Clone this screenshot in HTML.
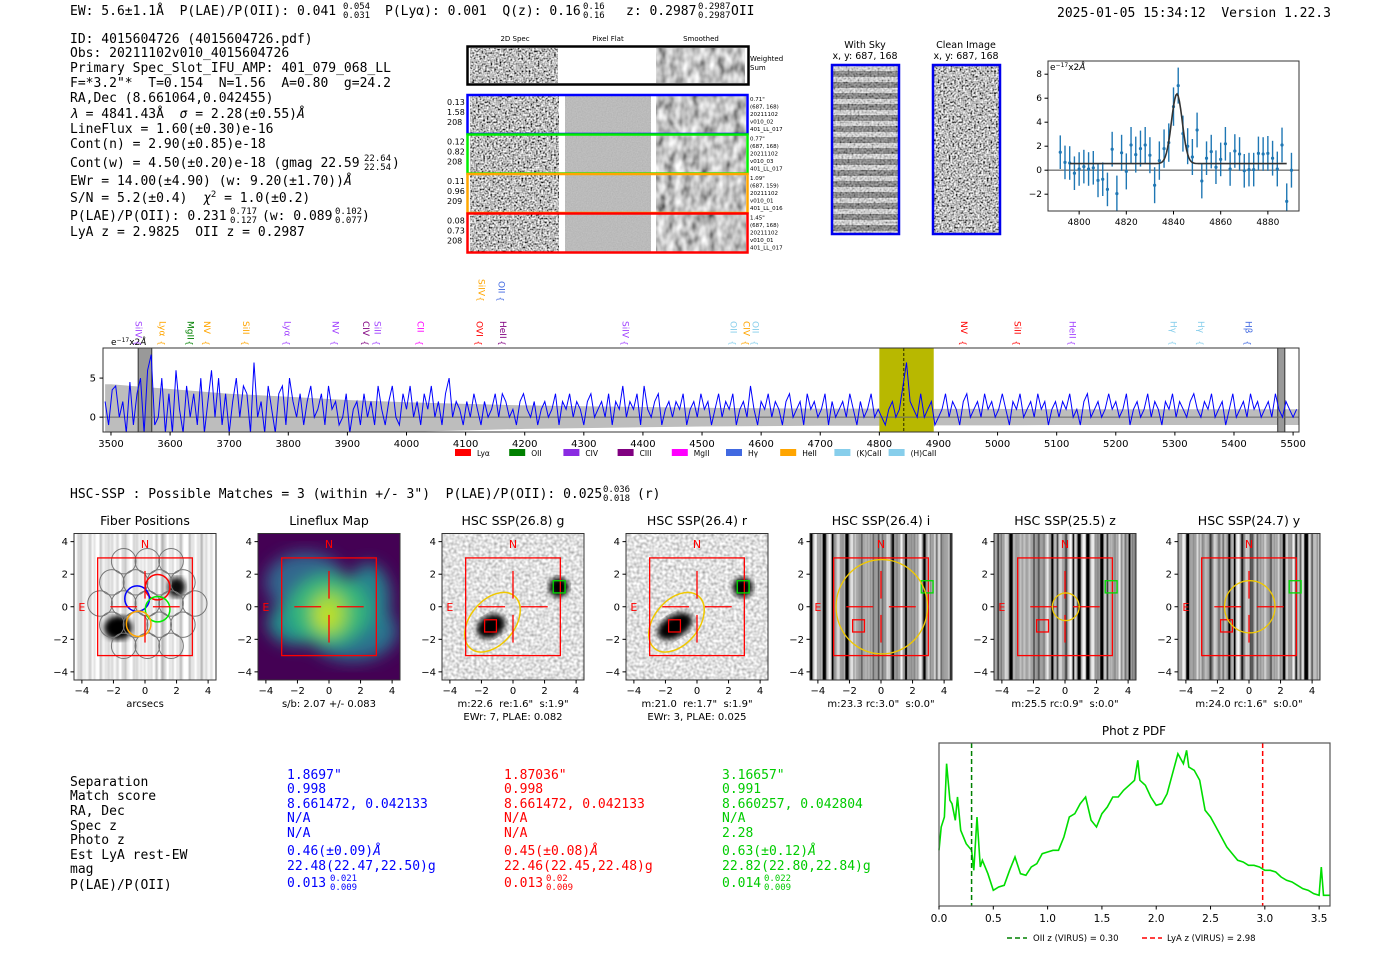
<!DOCTYPE html>
<html><head><meta charset="utf-8"><style>
html,body{margin:0;padding:0;background:#fff;}
svg{display:block;}
svg text{white-space:pre;}
.m{font-family:"DejaVu Sans Mono","Liberation Mono",monospace;font-size:13px;fill:#000;}
.m.u{font-size:9px;}
.s{font-family:"DejaVu Sans","Liberation Sans",sans-serif;}
</style></head><body>
<svg id="fig" width="1400" height="953" viewBox="0 0 1400 953" xmlns="http://www.w3.org/2000/svg" xml:space="preserve">
<defs>
<filter id="nz" x="0" y="0" width="1" height="1"><feTurbulence type="fractalNoise" baseFrequency="0.55" numOctaves="1" seed="4"/><feColorMatrix type="matrix" values="2.2 0 0 0 -0.6  2.2 0 0 0 -0.6  2.2 0 0 0 -0.6  0 0 0 0 1"/></filter>
<filter id="nzs" x="0" y="0" width="1" height="1"><feTurbulence type="fractalNoise" baseFrequency="0.12 0.08" numOctaves="2" seed="9"/><feColorMatrix type="matrix" values="1.3 0 0 0 -0.1  1.3 0 0 0 -0.1  1.3 0 0 0 -0.1  0 0 0 0 1"/></filter>
<filter id="nzf" x="0" y="0" width="1" height="1"><feTurbulence type="fractalNoise" baseFrequency="0.8" numOctaves="1" seed="2"/><feColorMatrix type="matrix" values="0.15 0 0 0 0.42  0.15 0 0 0 0.42  0.15 0 0 0 0.42  0 0 0 0 1"/></filter>
<filter id="nzl" x="0" y="0" width="1" height="1"><feTurbulence type="fractalNoise" baseFrequency="0.35" numOctaves="1" seed="6"/><feColorMatrix type="matrix" values="1.1 0 0 0 0.2  1.1 0 0 0 0.2  1.1 0 0 0 0.2  0 0 0 0 1"/></filter>
<filter id="str1" x="0" y="0" width="1" height="1"><feTurbulence type="fractalNoise" baseFrequency="0.18 0" numOctaves="2" seed="11"/><feColorMatrix type="matrix" values="1.5 0 0 0 0.05  1.5 0 0 0 0.05  1.5 0 0 0 0.05  0 0 0 0 1"/></filter>
<filter id="str4" x="0" y="0" width="1" height="1"><feTurbulence type="fractalNoise" baseFrequency="0.22 0" numOctaves="2" seed="17"/><feColorMatrix type="matrix" values="2.4 0 0 0 -0.85  2.4 0 0 0 -0.85  2.4 0 0 0 -0.85  0 0 0 0 1"/></filter>
<filter id="str5" x="0" y="0" width="1" height="1"><feTurbulence type="fractalNoise" baseFrequency="0.22 0" numOctaves="2" seed="23"/><feColorMatrix type="matrix" values="2.4 0 0 0 -0.85  2.4 0 0 0 -0.85  2.4 0 0 0 -0.85  0 0 0 0 1"/></filter>
<filter id="str6" x="0" y="0" width="1" height="1"><feTurbulence type="fractalNoise" baseFrequency="0.22 0" numOctaves="2" seed="31"/><feColorMatrix type="matrix" values="2.4 0 0 0 -0.85  2.4 0 0 0 -0.85  2.4 0 0 0 -0.85  0 0 0 0 1"/></filter>
<filter id="sky" x="0" y="0" width="1" height="1"><feTurbulence type="fractalNoise" baseFrequency="0.5" numOctaves="1" seed="5"/><feColorMatrix type="matrix" values="1.5 0 0 0 -0.3  1.5 0 0 0 -0.3  1.5 0 0 0 -0.3  0 0 0 0 0.55"/></filter>
<filter id="blur3"><feGaussianBlur stdDeviation="3"/></filter>
<filter id="blur8"><feGaussianBlur stdDeviation="8"/></filter>
<pattern id="skyp" width="10" height="11" patternUnits="userSpaceOnUse"><rect width="10" height="11" fill="#eee"/><rect y="5" width="10" height="6" fill="#555"/></pattern>
</defs>

<g>
<text class="m" x="70" y="15">EW: 5.6±1.1Å  P(LAE)/P(OII): 0.041</text>
<text class="m u" x="343" y="9">0.054</text><text class="m u" x="343" y="18">0.031</text>
<text class="m" x="385" y="15">P(Lyα): 0.001  Q(z): 0.16</text>
<text class="m u" x="583" y="9">0.16</text><text class="m u" x="583" y="18">0.16</text>
<text class="m" x="626" y="15">z: 0.2987</text>
<text class="m u" x="698" y="9">0.2987</text><text class="m u" x="698" y="18">0.2987</text>
<text class="m" x="731" y="15">OII</text>
<text class="m" x="1057" y="17">2025-01-05 15:34:12  Version 1.22.3</text>
</g>

<g>
<text class="m" x="70" y="43">ID: 4015604726 (4015604726.pdf)</text>
<text class="m" x="70" y="57">Obs: 20211102v010_4015604726</text>
<text class="m" x="70" y="72">Primary Spec_Slot_IFU_AMP: 401_079_068_LL</text>
<text class="m" x="70" y="87">F=*3.2"*  T=0.154  N=1.56  A=0.80  g=24.2</text>
<text class="m" x="70" y="102">RA,Dec (8.661064,0.042455)</text>
<text class="m" x="70" y="118"><tspan font-style="italic">λ</tspan> = 4841.43Å  <tspan font-style="italic">σ</tspan> = 2.28(±0.55)<tspan font-style="italic">Å</tspan></text>
<text class="m" x="70" y="133">LineFlux = 1.60(±0.30)e-16</text>
<text class="m" x="70" y="148">Cont(n) = 2.90(±0.85)e-18</text>
<text class="m" x="70" y="167">Cont(w) = 4.50(±0.20)e-18 (gmag 22.59</text>
<text class="m u" x="364" y="161">22.64</text><text class="m u" x="364" y="170">22.54</text>
<text class="m" x="392" y="167">)</text>
<text class="m" x="70" y="185">EWr = 14.00(±4.90) (w: 9.20(±1.70))<tspan font-style="italic">Å</tspan></text>
<text class="m" x="70" y="202">S/N = 5.2(±0.4)  <tspan font-style="italic">χ</tspan><tspan style="font-size:9px" dy="-5">2</tspan><tspan dy="5"> = 1.0(±0.2)</tspan></text>
<text class="m" x="70" y="220">P(LAE)/P(OII): 0.231</text>
<text class="m u" x="230" y="214">0.717</text><text class="m u" x="230" y="223">0.127</text>
<text class="m" x="262" y="220">(w: 0.089</text>
<text class="m u" x="335" y="214">0.102</text><text class="m u" x="335" y="223">0.077</text>
<text class="m" x="362" y="220">)</text>
<text class="m" x="70" y="236">LyA z = 2.9825  OII z = 0.2987</text>
</g>

<g class="s" font-size="7">
<text x="515" y="41" text-anchor="middle">2D Spec</text>
<text x="608" y="41" text-anchor="middle">Pixel Flat</text>
<text x="701" y="41" text-anchor="middle">Smoothed</text>
<g>
<rect x="470" y="48" width="88" height="35" filter="url(#nz)"/>
<rect x="558" y="48" width="97" height="35" fill="#fff"/>
<rect x="656" y="48" width="89" height="35" filter="url(#nzs)"/>
<rect x="467.5" y="46.5" width="281" height="38" fill="none" stroke="#000" stroke-width="2.5"/>
<text x="750" y="61">Weighted</text><text x="750" y="70">Sum</text>
</g>
<g id="rows"></g>
</g>

<g class="s" font-size="9.5">
<text x="865" y="48" text-anchor="middle">With Sky</text>
<text x="865" y="59" text-anchor="middle">x, y: 687, 168</text>
<rect x="832" y="65" width="67" height="169" fill="url(#skyp)"/>
<rect x="832" y="65" width="67" height="169" filter="url(#sky)"/>
<rect x="832" y="65" width="67" height="169" fill="none" stroke="#0000ee" stroke-width="2.5"/>
</g>
<g class="s" font-size="9.5">
<text x="966" y="48" text-anchor="middle">Clean Image</text>
<text x="966" y="59" text-anchor="middle">x, y: 687, 168</text>
<rect x="933" y="65" width="67" height="169" filter="url(#nz)"/>
<rect x="933" y="65" width="67" height="169" fill="none" stroke="#0000ee" stroke-width="2.5"/>
</g>

<g id="zoomspec"></g>
<g id="mainspec"></g>

<text class="m" x="70" y="498">HSC-SSP : Possible Matches = 3 (within +/- 3")  P(LAE)/P(OII): 0.025</text>
<text class="m u" x="603" y="492">0.036</text><text class="m u" x="603" y="501">0.018</text>
<text class="m" x="637" y="498">(r)</text>

<g id="cutouts"></g>

<g class="m">
<text class="m" x="70" y="786">Separation</text><text class="m" x="70" y="800">Match score</text><text class="m" x="70" y="815">RA, Dec</text><text class="m" x="70" y="830">Spec z</text><text class="m" x="70" y="844">Photo z</text><text class="m" x="70" y="859">Est LyA rest-EW</text><text class="m" x="70" y="873">mag</text><text class="m" x="70" y="889">P(LAE)/P(OII)</text>
<g>
<text x="287" y="779" fill="#0000ff">1.8697"</text><text x="287" y="793" fill="#0000ff">0.998</text><text x="287" y="808" fill="#0000ff">8.661472, 0.042133</text><text x="287" y="822" fill="#0000ff">N/A</text><text x="287" y="837" fill="#0000ff">N/A</text><text x="287" y="855" fill="#0000ff">0.46(±0.09)<tspan font-style="italic">Å</tspan></text><text x="287" y="870" fill="#0000ff">22.48(22.47,22.50)g</text><text x="287" y="887" fill="#0000ff">0.013</text><text x="330" y="881" style="font-size:9px" fill="#0000ff">0.021</text><text x="330" y="890" style="font-size:9px" fill="#0000ff">0.009</text>
</g>
<g>
<text x="504" y="779" fill="#ff0000">1.87036"</text><text x="504" y="793" fill="#ff0000">0.998</text><text x="504" y="808" fill="#ff0000">8.661472, 0.042133</text><text x="504" y="822" fill="#ff0000">N/A</text><text x="504" y="837" fill="#ff0000">N/A</text><text x="504" y="855" fill="#ff0000">0.45(±0.08)<tspan font-style="italic">Å</tspan></text><text x="504" y="870" fill="#ff0000">22.46(22.45,22.48)g</text><text x="504" y="887" fill="#ff0000">0.013</text><text x="546" y="881" style="font-size:9px" fill="#ff0000">0.02</text><text x="546" y="890" style="font-size:9px" fill="#ff0000">0.009</text>
</g>
<g>
<text x="722" y="779" fill="#00cc00">3.16657"</text><text x="722" y="793" fill="#00cc00">0.991</text><text x="722" y="808" fill="#00cc00">8.660257, 0.042804</text><text x="722" y="822" fill="#00cc00">N/A</text><text x="722" y="837" fill="#00cc00">2.28</text><text x="722" y="855" fill="#00cc00">0.63(±0.12)<tspan font-style="italic">Å</tspan></text><text x="722" y="870" fill="#00cc00">22.82(22.80,22.84)g</text><text x="722" y="887" fill="#00cc00">0.014</text><text x="764" y="881" style="font-size:9px" fill="#00cc00">0.022</text><text x="764" y="890" style="font-size:9px" fill="#00cc00">0.009</text>
</g>
</g>

<g id="pdf"></g>
</svg>

<script>
const fitWave = [4792,4794,4796,4798,4800,4802,4804,4806,4808,4810,4812,4814,4816,4818,4820,4822,4824,4826,4828,4830,4832,4834,4836,4838,4840,4842,4844,4846,4848,4850,4852,4854,4856,4858,4860,4862,4864,4866,4868,4870,4872,4874,4876,4878,4880,4882,4884,4886,4888,4890];
const fitFlux = [1.5,0.65,0.6,-0.25,0.1,0.3,0.1,0.2,-0.85,-0.75,-1.6,1.75,-1.95,1.45,-0.1,2.1,1.3,1.8,2.1,1.25,-1.25,0.8,1.8,2.3,5.3,7.05,3.05,2.0,1.1,3.35,-0.9,1.0,1.55,0.25,0.9,2.2,0.1,1.6,1.35,-0.05,0.05,0.05,1.4,1.35,1.4,1.0,0.1,2.1,-2.6,0.0];
const fitErr = [1.4,1.4,1.4,1.4,1.4,1.4,1.4,1.4,1.4,1.4,1.4,1.45,1.5,1.5,1.5,1.5,1.5,1.5,1.5,1.5,1.5,1.6,1.6,1.6,1.6,1.5,1.5,1.5,1.5,1.45,1.45,1.4,1.4,1.4,1.4,1.4,1.4,1.4,1.4,1.4,1.4,1.4,1.4,1.4,1.45,1.45,1.45,1.45,1.5,1.45];
const fitParams = [4841.43, 2.28, 5.8, 0.55];
const fitTicksX = [4800,4820,4840,4860,4880];
const fitTicksY = [-2,0,2,4,6,8];

const specStart = 3490, specStep = 6;
const specFlux = [2,-1,3.5,4,0,2,-2,4.5,-1,3, 5,-2,6,8,-1,0,5,-2,3,-2, 6,1,-2,4,0,3,-1,5,-2,2, 6,0,5,-1,3,-2,2,5,0,4, 3,-2,7,0,2,-2,4,1,-2,3, 4,-1,5,2,0,3,-1,2,4,0, 1,3,-1,4,1,2,-1,0,3,-2, 1,2,-1,3,0,2,-1,4,1,-1, 2,4,0,-1,3,1,4,0,2,-1, 3,1,4,0,2,-1,3,5,0,2, 1,-1,2,0,3,1,-1,2,0,1, 3,0,3,2,0,1,-1,2,3,1, 0,2,-1,1,2,0,1,3,-1,2, 1,3,0,2,1,-1,2,3,0,1, 2,0,3,-1,2,1,4,0,2,1, 3,-1,4,1,0,2,3,-1,1,2, 0,2,1,3,-1,1,2,0,3,1, 2,-1,1,3,0,2,1,3,-1,1, 2,0,4,1,-1,2,1,3,0,2, 1,-1,2,3,0,1,2,-1,3,1, 2,0,1,3,-1,2,0,1,2,0, 3,1,-1,2,0,1,3,0,1,0, -1,1,2,0,1,4,7,2,1,0, 3,0,1,2,-1,0,1,3,0,2, 1,-1,2,3,0,1,2,0,3,1, 2,0,1,3,1,-1,2,1,3,0, 1,2,0,3,1,2,-1,1,2,0, 2,1,3,0,1,-1,2,3,0,1, 2,0,1,3,1,2,0,1,3,-1, 1,2,0,1,3,0,2,1,-1,2, 1,3,0,2,1,0,2,3,1,0, 2,1,3,0,1,2,-1,1,3,0, 1,2,0,3,1,2,0,1,2,0, 3,1,0,2,1,0,1];
const bandWave = [3490,3500,3600,3700,3800,3900,4000,4100,4200,4300,4400,4500,4600,4700,4800,4900,5000,5100,5200,5300,5400,5510];
const bandErr  = [4.2,4.2,3.6,3.0,2.6,2.2,1.9,1.7,1.5,1.4,1.3,1.2,1.15,1.1,1.1,1.05,1.05,1.0,1.0,1.0,1.0,1.0];
const specTicksX = [3500,3600,3700,3800,3900,4000,4100,4200,4300,4400,4500,4600,4700,4800,4900,5000,5100,5200,5300,5400,5500];
const specTicksY = [0,5];
const lineNames = ["SiIV","Lyα","MgII","NV","SiII","Lyα","NV","CIV","SiII","CII","OVI","HeII","SiIV","OII","CIV","OII","NV","SiII","HeII","Hγ","Hγ","Hβ"];
const lineWaves = [3546,3586,3634,3662,3728,3798,3879,3931,3950,4023,4123,4162,4370,4552,4574,4590,4942,5033,5126,5297,5343,5424];
const lineColors = ["#a040ff","orange","green","orange","orange","#a040ff","#a040ff","#800080","#a040ff","magenta","red","#800080","#a040ff","#87ceeb","orange","#87ceeb","red","red","#a040ff","#87ceeb","#87ceeb","#4169e1"];
const legNames = ["Lyα","OII","CIV","CIII","MgII","Hγ","HeII","(K)CaII","(H)CaII"];
const legColors = ["red","green","#8a2be2","#800080","magenta","#4169e1","orange","#87ceeb","#87ceeb"];

const pdfZ = [0.0,0.02,0.05,0.07,0.1,0.12,0.15,0.17,0.2,0.25,0.3,0.32,0.35,0.38,0.4,0.45,0.5,0.55,0.6,0.65,0.7,0.75,0.8,0.85,0.9,0.95,1.0,1.05,1.1,1.15,1.2,1.25,1.3,1.35,1.4,1.45,1.5,1.55,1.6,1.65,1.7,1.75,1.8,1.83,1.85,1.9,1.95,2.0,2.05,2.1,2.15,2.2,2.25,2.28,2.3,2.35,2.4,2.45,2.5,2.55,2.6,2.65,2.7,2.75,2.8,2.85,2.9,2.95,3.0,3.05,3.1,3.15,3.2,3.25,3.3,3.35,3.4,3.45,3.5,3.52,3.54,3.6];
const pdfVal = [1.67,2.37,2.67,4.27,3.17,3.07,2.57,3.27,2.27,1.87,1.67,1.07,2.67,1.17,1.37,0.97,0.47,0.57,0.62,1.07,1.47,0.97,0.92,1.17,1.27,1.57,1.62,1.67,1.67,2.07,2.67,2.77,3.07,3.27,2.57,2.37,2.77,2.97,3.27,3.27,3.47,3.62,3.77,4.37,3.77,3.62,3.27,3.02,3.07,3.37,3.97,4.57,4.27,4.67,4.17,4.07,3.77,2.87,2.67,2.37,2.07,1.77,1.57,1.37,1.32,1.22,1.22,1.17,1.07,1.07,1.02,0.87,0.77,0.72,0.62,0.52,0.47,0.37,0.32,1.17,0.32,0.32];
const pdfTicks = [0.0,0.5,1.0,1.5,2.0,2.5,3.0,3.5];
const pdfVlines = [0.30,2.98];

const cutTitles = ["Fiber Positions","Lineflux Map","HSC SSP(26.8) g","HSC SSP(26.4) r","HSC SSP(26.4) i","HSC SSP(25.5) z","HSC SSP(24.7) y"];
const cutLabels1 = ["arcsecs","s/b: 2.07 +/- 0.083","m:22.6  re:1.6\"  s:1.9\"","m:21.0  re:1.7\"  s:1.9\"","m:23.3 rc:3.0\"  s:0.0\"","m:25.5 rc:0.9\"  s:0.0\"","m:24.0 rc:1.6\"  s:0.0\""];
const cutLabels2 = ["","","EWr: 7, PLAE: 0.082","EWr: 3, PLAE: 0.025","","",""];
const apRadius = [0,0,0,0,2.9,0.85,1.6];
const cutTicks = [-4,-2,0,2,4];

const NS="http://www.w3.org/2000/svg";
function mk(p,tag,a){const e=document.createElementNS(NS,tag);for(const k in a)e.setAttribute(k,a[k]);p.appendChild(e);return e;}
function txt(p,x,y,s,a){const e=mk(p,'text',Object.assign({x:x,y:y,'font-family':'DejaVu Sans, Liberation Sans, sans-serif','font-size':10},a||{}));e.textContent=s;return e;}

(function(){
 const g=document.getElementById('rows');
 const cols=['#0000ff','#00ee00','#ffa500','#ff0000'];
 const lab=[['0.13','1.58','208'],['0.12','0.82','208'],['0.11','0.96','209'],['0.08','0.73','208']];
 const rl=[['0.71"','(687, 168)','20211102','v010_02','401_LL_017'],['0.77"','(687, 168)','20211102','v010_03','401_LL_017'],['1.09"','(687, 159)','20211102','v010_01','401_LL_016'],['1.45"','(687, 168)','20211102','v010_01','401_LL_017']];
 for(let i=0;i<4;i++){
  const y=96+i*39.5;
  const row=mk(g,'g',{});
  
  
  mk(row,'rect',{x:470,y:y,width:89,height:37,filter:'url(#nz)'});
  mk(row,'rect',{x:559,y:y,width:6,height:37,fill:'#fff'});
  mk(row,'rect',{x:565,y:y,width:86,height:37,filter:'url(#nzf)'});
  mk(row,'rect',{x:651,y:y,width:5,height:37,fill:'#fff'});
  mk(row,'rect',{x:656,y:y,width:90,height:37,filter:'url(#nzs)'});
  mk(row,'rect',{x:467.5,y:y-1,width:280,height:39,fill:'none',stroke:cols[i],'stroke-width':2.5});
  lab[i].forEach((s,k)=>txt(row,447,y+9+k*10,s,{'font-size':8}));
  rl[i].forEach((s,k)=>txt(row,750,y+5+k*7.5,s,{'font-size':5.5}));
 }
})();

(function(){
 const g=document.getElementById('zoomspec');
 const L=1048,R=1299,T=61,B=211, x0=4786.8,x1=4893.2, y0=-3.4,y1=9.1;
 const X=v=>L+(v-x0)/(x1-x0)*(R-L), Y=v=>B-(v-y0)/(y1-y0)*(B-T);
 mk(g,'rect',{x:L,y:T,width:R-L,height:B-T,fill:'#fff'});
 mk(g,'line',{x1:L,x2:R,y1:Y(0),y2:Y(0),stroke:'#777','stroke-width':1.3});
 const cp=mk(g,'clipPath',{id:'zc'});mk(cp,'rect',{x:L,y:T,width:R-L,height:B-T});
 const d=mk(g,'g',{'clip-path':'url(#zc)'});
 fitWave.forEach((w,i)=>{
  const eb=mk(d,'line',{x1:X(w),x2:X(w),y1:Y(fitFlux[i]-fitErr[i]),y2:Y(fitFlux[i]+fitErr[i]),stroke:'#1f77b4','stroke-width':1.4});
  
  
  const pt=mk(d,'circle',{cx:X(w),cy:Y(fitFlux[i]),r:1.6,fill:'#1f77b4'});
  
  
 });
 let p='';
 for(let w=4796;w<=4888;w+=0.5){const v=fitParams[3]+fitParams[2]*Math.exp(-Math.pow(w-fitParams[0],2)/(2*fitParams[1]*fitParams[1]));p+=(p?'L':'M')+X(w).toFixed(1)+','+Y(v).toFixed(1);}
 const fl=mk(d,'path',{d:p,fill:'none',stroke:'#333','stroke-width':1.6});
 
 
 mk(g,'rect',{x:L,y:T,width:R-L,height:B-T,fill:'none',stroke:'#333','stroke-width':1});
 fitTicksX.forEach(t=>{mk(g,'line',{x1:X(t),x2:X(t),y1:B,y2:B+3.5,stroke:'#000'});txt(g,X(t),B+14,String(t),{'text-anchor':'middle','font-size':9});});
 fitTicksY.forEach(t=>{mk(g,'line',{x1:L-3.5,x2:L,y1:Y(t),y2:Y(t),stroke:'#000'});txt(g,L-6,Y(t)+3,(t<0?'−':'')+Math.abs(t),{'text-anchor':'end','font-size':9});});
 txt(g,L+2,T+9,'e',{'font-size':9}).innerHTML='e<tspan font-size="6" dy="-3">−17</tspan><tspan dy="3">x2</tspan><tspan font-style="italic">Å</tspan>';
})();

(function(){
 const g=document.getElementById('mainspec');
 const L=103,R=1299,T=348,B=432, x0=3486.5,x1=5510, y0=-1.9,y1=8.85;
 const X=v=>L+(v-x0)/(x1-x0)*(R-L), Y=v=>B-(v-y0)/(y1-y0)*(B-T);
 const cp=mk(g,'clipPath',{id:'mc'});mk(cp,'rect',{x:L,y:T,width:R-L,height:B-T});
 const d=mk(g,'g',{'clip-path':'url(#mc)'});
 let bp='';bandWave.forEach((w,i)=>{bp+=(bp?'L':'M')+X(w).toFixed(1)+','+Y(bandErr[i]).toFixed(1);});
 for(let i=bandWave.length-1;i>=0;i--)bp+='L'+X(bandWave[i]).toFixed(1)+','+Y(-bandErr[i]).toFixed(1);
 const band=mk(d,'path',{d:bp+'Z',fill:'#bdbdbd'});
 
 
 const hb=mk(d,'rect',{x:X(4800),y:T,width:X(4892)-X(4800),height:B-T,fill:'#b8b800'});
 
 
 mk(d,'rect',{x:X(3546),y:T,width:X(3569)-X(3546),height:B-T,fill:'#999',stroke:'#333'});
 mk(d,'rect',{x:X(5474),y:T,width:X(5486)-X(5474),height:B-T,fill:'#999',stroke:'#333'});
 mk(d,'line',{x1:L,x2:R,y1:Y(0),y2:Y(0),stroke:'#666','stroke-width':1});
 mk(d,'line',{x1:X(4841.4),x2:X(4841.4),y1:T,y2:B,stroke:'#000','stroke-dasharray':'3,2','stroke-width':0.8});
 let p='';specFlux.forEach((v,i)=>{p+=(p?'L':'M')+X(specStart+i*specStep).toFixed(1)+','+Y(v).toFixed(1);});
 const ln=mk(d,'path',{d:p,fill:'none',stroke:'#0000ff','stroke-width':1});
 
 
 mk(g,'rect',{x:L,y:T,width:R-L,height:B-T,fill:'none',stroke:'#333'});
 specTicksX.forEach(t=>{mk(g,'line',{x1:X(t),x2:X(t),y1:B,y2:B+3.5,stroke:'#000'});txt(g,X(t),B+15,String(t),{'text-anchor':'middle','font-size':10});});
 specTicksY.forEach(t=>{mk(g,'line',{x1:L-3.5,x2:L,y1:Y(t),y2:Y(t),stroke:'#000'});txt(g,L-7,Y(t)+3.5,String(t),{'text-anchor':'end','font-size':10});});
 txt(g,L+8,T-3,'',{'font-size':9}).innerHTML='e<tspan font-size="6" dy="-3">−17</tspan><tspan dy="3">x2</tspan><tspan font-style="italic">Å</tspan>';
 lineNames.forEach((n,i)=>{
  const x=X(lineWaves[i]);
  const t=txt(g,x,321,n,{'font-size':9,fill:lineColors[i],transform:'rotate(90 '+x+' 321)','dominant-baseline':'middle'});
  
  
  txt(g,x,346,'{',{'font-size':8,fill:lineColors[i],'text-anchor':'middle',transform:'rotate(90 '+x+' 343)'});
 });
 txt(g,X(4126),279,'SiIV',{'font-size':9,fill:'orange',transform:'rotate(90 '+X(4126)+' 279)','dominant-baseline':'middle'});
 txt(g,X(4126),302,'{',{'font-size':8,fill:'orange','text-anchor':'middle',transform:'rotate(90 '+X(4126)+' 299)'});
 txt(g,X(4160),281,'OII',{'font-size':9,fill:'#4169e1',transform:'rotate(90 '+X(4160)+' 281)','dominant-baseline':'middle'});
 txt(g,X(4160),302,'{',{'font-size':8,fill:'#4169e1','text-anchor':'middle',transform:'rotate(90 '+X(4160)+' 299)'});
 legNames.forEach((n,i)=>{
  const lx=455+i*54.2;
  const le=mk(g,'g',{});
  
  
  mk(le,'rect',{x:lx,y:449,width:16,height:7,fill:legColors[i]});
  txt(le,lx+22,456,n,{'font-size':7.5});
 });
})();

(function(){
 const g=document.getElementById('cutouts');
 const W=142,H=146.5,T=533.5,sx=W/9,sy=H/9;
 for(let k=0;k<7;k++){
  const L=74+184*k, cx=L+W/2, cy=T+H/2;
  const X=v=>cx+v*sx, Y=v=>cy-v*sy;
  const p=mk(g,'g',{});
  
  
  const cid='cc'+k;const cp=mk(p,'clipPath',{id:cid});mk(cp,'rect',{x:L,y:T,width:W,height:H});
  const d=mk(p,'g',{'clip-path':'url(#'+cid+')'});
  if(k===0){
   mk(d,'rect',{x:L,y:T,width:W,height:H,filter:'url(#str1)'});
   mk(d,'ellipse',{cx:X(-1.7),cy:Y(-1.3),rx:14,ry:12,fill:'#000',filter:'url(#blur3)'});
   mk(d,'ellipse',{cx:X(2.0),cy:Y(1.2),rx:9,ry:10,fill:'#111',filter:'url(#blur3)'});
   const r=0.78;
   for(let i=-3;i<=3;i++)for(let j=-3;j<=3;j++){
    const fx=0.15+1.5*(i+(j%2?0.5:0)), fy=0.2+1.3*j;
    if(Math.hypot(fx-0.15,fy-0.2)>3.9)continue;
    mk(d,'ellipse',{cx:X(fx),cy:Y(fy),rx:r*sx,ry:r*sy,fill:'none',stroke:'#777','stroke-width':1});
   }
   [[0.8,1.2,'#ff0000'],[-0.5,0.5,'#0000ff'],[0.8,-0.15,'#00ee00'],[-0.4,-1.05,'orange']].forEach(c=>mk(d,'ellipse',{cx:X(c[0]),cy:Y(c[1]),rx:r*sx,ry:r*sy,fill:'none',stroke:c[2],'stroke-width':1.5}));
  } else if(k===1){
   mk(d,'rect',{x:L,y:T,width:W,height:H,fill:'#440154'});
   const b=mk(d,'g',{filter:'url(#blur8)'});
   mk(b,'ellipse',{cx:X(-1.5),cy:Y(1.5),rx:40,ry:30,fill:'#31688e'});
   mk(b,'ellipse',{cx:X(1.5),cy:Y(-1.5),rx:45,ry:30,fill:'#2c728e'});
   mk(b,'ellipse',{cx:X(-2),cy:Y(-1),rx:30,ry:22,fill:'#21908d'});
   mk(b,'ellipse',{cx:X(2.5),cy:Y(0.5),rx:22,ry:35,fill:'#26828e'});
   mk(b,'ellipse',{cx:X(0),cy:Y(-0.2),rx:40,ry:35,fill:'#35b779'});
   mk(b,'ellipse',{cx:X(0),cy:Y(-0.4),rx:18,ry:22,fill:'#a0da39'});
   mk(b,'ellipse',{cx:X(-0.2),cy:Y(-0.6),rx:7,ry:9,fill:'#d8e219'});
  } else if(k<4){
   mk(d,'rect',{x:L,y:T,width:W,height:H,filter:'url(#nzl)'});
   mk(d,'ellipse',{cx:X(-1.4),cy:Y(-1.2),rx:k===2?15:19,ry:11,fill:'#000',filter:'url(#blur3)',transform:'rotate(-30 '+X(-1.4)+' '+Y(-1.2)+')'});
   mk(d,'ellipse',{cx:X(2.9),cy:Y(1.2),rx:10,ry:10,fill:'#000',filter:'url(#blur3)'});
   mk(d,'ellipse',{cx:X(-1.3),cy:Y(-0.95),rx:1.4*sx,ry:2.1*sy,fill:'none',stroke:'#f0c800','stroke-width':1.5,transform:'rotate(40 '+X(-1.3)+' '+Y(-0.95)+')'});
  } else {
   mk(d,'rect',{x:L,y:T,width:W,height:H,filter:'url(#str'+k+')'});
  }
  const rs=mk(d,'rect',{x:X(-3),y:Y(3),width:6*sx,height:6*sy,fill:'none',stroke:'#ff0000','stroke-width':1.3});
  
  
  [[-2.2,-0.5],[0.5,2.2]].forEach(a=>mk(d,'line',{x1:X(a[0]),x2:X(a[1]),y1:Y(0),y2:Y(0),stroke:'#ff0000','stroke-width':1.3}));
  [[-2.2,-0.5],[0.5,2.2]].forEach(a=>mk(d,'line',{x1:X(0),x2:X(0),y1:Y(a[0]),y2:Y(a[1]),stroke:'#ff0000','stroke-width':1.3}));
  if(k>=2){
   mk(d,'rect',{x:X(-1.8),y:Y(-0.8),width:0.75*sx,height:0.75*sy,fill:'none',stroke:'#ff0000','stroke-width':1.3});
   mk(d,'rect',{x:X(2.55),y:Y(1.6),width:0.75*sx,height:0.75*sy,fill:'none',stroke:'#00dd00','stroke-width':1.3});
  }
  if(apRadius[k]>0) mk(d,'ellipse',{cx:X(0.05),cy:Y(0),rx:apRadius[k]*sx,ry:apRadius[k]*sy,fill:'none',stroke:'#f0c800','stroke-width':1.3});
  txt(d,X(0),Y(3.6),'N',{fill:'#ff0000','text-anchor':'middle','font-size':11});
  txt(d,X(-4),Y(0)+4,'E',{fill:'#ff0000','text-anchor':'middle','font-size':11});
  mk(p,'rect',{x:L,y:T,width:W,height:H,fill:'none',stroke:'#333'});
  cutTicks.forEach(t=>{
   const s=(t<0?'−':'')+Math.abs(t);
   mk(p,'line',{x1:X(t),x2:X(t),y1:T+H,y2:T+H+3.5,stroke:'#000'});
   txt(p,X(t),T+H+14,s,{'text-anchor':'middle','font-size':10});
   mk(p,'line',{x1:L-3.5,x2:L,y1:Y(t),y2:Y(t),stroke:'#000'});
   txt(p,L-6,Y(t)+3.5,s,{'text-anchor':'end','font-size':10});
  });
  const ti=txt(p,cx,525,cutTitles[k],{'text-anchor':'middle','font-size':12.5});
  
  
  txt(p,cx,707,cutLabels1[k],{'text-anchor':'middle','font-size':10});
  if(cutLabels2[k])txt(p,cx,720,cutLabels2[k],{'text-anchor':'middle','font-size':10});
 }
})();

(function(){
 const g=document.getElementById('pdf');
 const L=939,R=1330,T=743,B=906, x0=0,x1=3.6,y0=0,y1=4.89;
 const X=v=>L+(v-x0)/(x1-x0)*(R-L), Y=v=>B-(v-y0)/(y1-y0)*(B-T);
 let p='';pdfZ.forEach((z,i)=>{p+=(p?'L':'M')+X(z).toFixed(1)+','+Y(pdfVal[i]).toFixed(1);});
 const ln=mk(g,'path',{d:p,fill:'none',stroke:'#00dd00','stroke-width':1.6});
 
 
 const v1=mk(g,'line',{x1:X(pdfVlines[0]),x2:X(pdfVlines[0]),y1:T,y2:B,stroke:'#008000','stroke-width':1.5,'stroke-dasharray':'5,3'});
 
 
 const v2=mk(g,'line',{x1:X(pdfVlines[1]),x2:X(pdfVlines[1]),y1:T,y2:B,stroke:'#ff0000','stroke-width':1.5,'stroke-dasharray':'5,3'});
 
 
 mk(g,'rect',{x:L,y:T,width:R-L,height:B-T,fill:'none',stroke:'#555','stroke-width':1.2});
 pdfTicks.forEach(t=>{mk(g,'line',{x1:X(t),x2:X(t),y1:B,y2:B+3.5,stroke:'#000'});txt(g,X(t),B+16,t.toFixed(1),{'text-anchor':'middle','font-size':10.5});});
 txt(g,1134,735,'Phot z PDF',{'text-anchor':'middle','font-size':12});
 const lg=mk(g,'g',{});
 
 
 mk(lg,'line',{x1:1007,x2:1027,y1:938,y2:938,stroke:'#008000','stroke-width':1.5,'stroke-dasharray':'5,3'});
 txt(lg,1033,941,'OII z (VIRUS) = 0.30',{'font-size':8.5});
 mk(lg,'line',{x1:1142,x2:1162,y1:938,y2:938,stroke:'#ff0000','stroke-width':1.5,'stroke-dasharray':'5,3'});
 txt(lg,1167,941,'LyA z (VIRUS) = 2.98',{'font-size':8.5});
})();
</script>
</body></html>
